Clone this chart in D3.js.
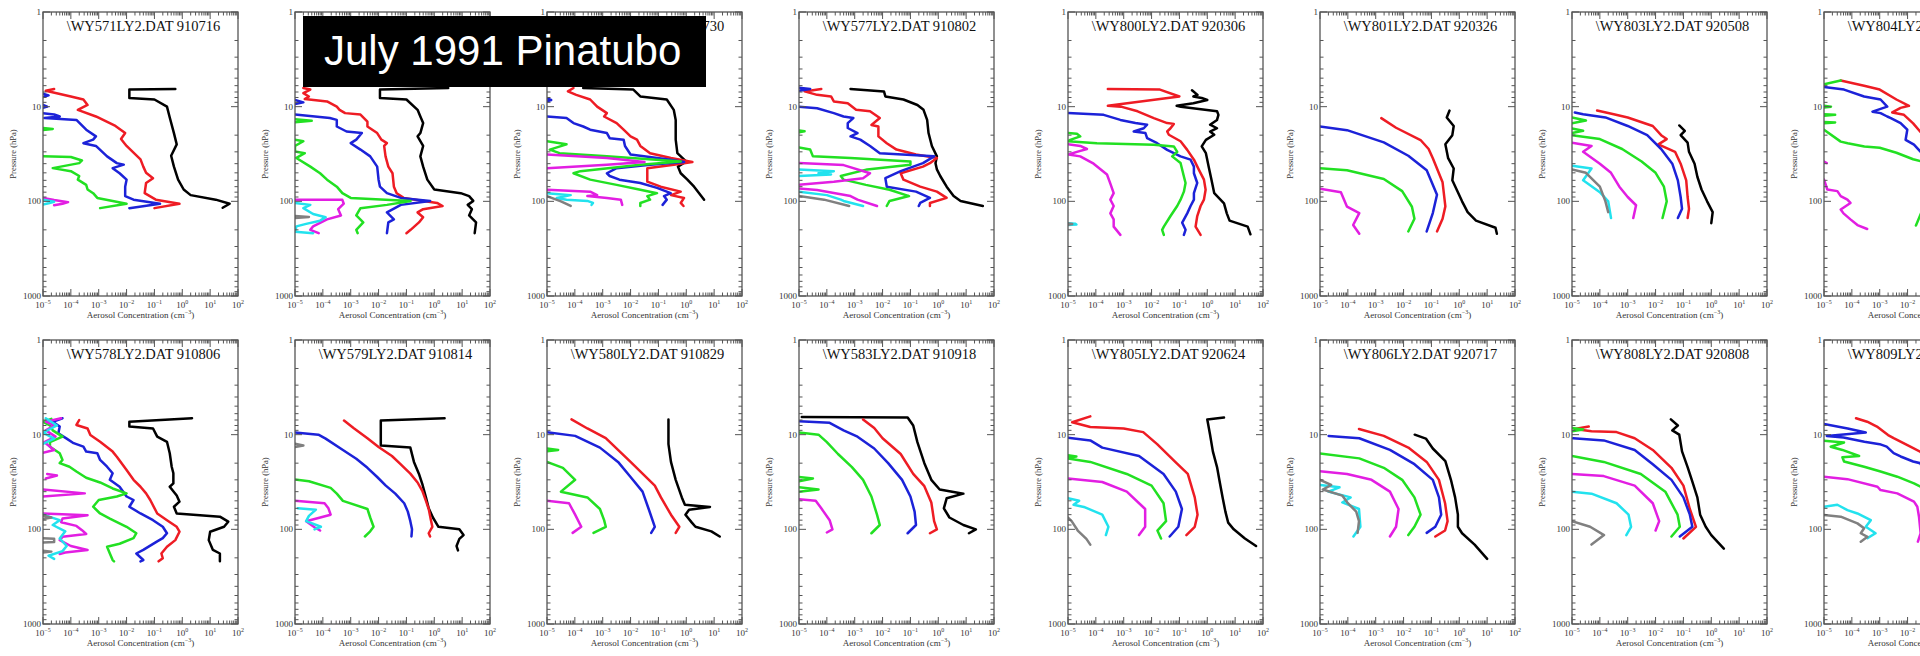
<!DOCTYPE html>
<html>
<head>
<meta charset="utf-8">
<script src="https://cdn.jsdelivr.net/npm/d3@7"></script>
<style>
  html, body { margin: 0; padding: 0; background: #fff; overflow: hidden; }
  svg { display: block; }
</style>
</head>
<body>
<svg id="chart" width="1920" height="656"></svg>
<script>
// Balloon-borne aerosol profiles, Laramie WY, before and after Pinatubo.
// Each profile point is [pressure hPa, log10 concentration]; null breaks a line.
// Series order in every sounding: CN (black), then size channels red, blue,
// green, magenta, cyan, gray.

const seriesColors = ["#000000", "#ee1c24", "#1c22d8", "#22e022", "#e21ee2", "#22e2ee", "#808080"];
const xTickExponents = [-5, -4, -3, -2, -1, 0, 1, 2];
const yTickLabels = [1, 10, 100, 1000];

const titles = [
  "\\WY571LY2.DAT 910716", "\\WY574LY2.DAT 910723", "\\WY576LY2.DAT 910730", "\\WY577LY2.DAT 910802",
  "\\WY800LY2.DAT 920306", "\\WY801LY2.DAT 920326", "\\WY803LY2.DAT 920508", "\\WY804LY2.DAT 920528",
  "\\WY578LY2.DAT 910806", "\\WY579LY2.DAT 910814", "\\WY580LY2.DAT 910829", "\\WY583LY2.DAT 910918",
  "\\WY805LY2.DAT 920624", "\\WY806LY2.DAT 920717", "\\WY808LY2.DAT 920808", "\\WY809LY2.DAT 920828"
];

const wy571 = [
  [[6.5,-0.25],[6.6,-1.9],[8.1,-1.9],[8.4,-1.0],[10,-0.55],[13,-0.45],[19,-0.3],[25,-0.2],[33,-0.4],[43,-0.3],[59,-0.15],[75,0.05],[86,0.3],[96,1.2],[106,1.7],[117,1.45]],
  [[6.5,-4.6],[6.8,-4.9],[7.8,-4.0],[8.4,-3.55],[9.6,-3.4],[10.8,-3.75],[12.7,-3.1],[16,-2.4],[19,-2.05],[22,-2.2],[26,-2.0],[36,-1.5],[43,-1.4],[50,-1.3],[57,-1.05],[64,-1.3],[82,-1.35],[96,-0.95],[106,-0.1],[118,-1.0]],
  [[7.3,-5],[7.6,-4.8],[7.9,-5],null,[9.6,-5],[10,-4.85],[10.3,-5],null,[11.7,-5],[12.1,-4.6],[12.7,-4.4],[13.2,-4.95],[13.8,-3.8],[17.5,-3.45],[20.6,-3.1],[22.3,-3.2],[24.3,-3.55],[26,-3.1],[33.5,-2.7],[39.5,-2.35],[41,-2.1],[44.6,-2.5],[50.5,-2.25],[59,-2.0],[70,-2.05],[88,-2.05],[96,-1.75],[106,-0.8],[118,-1.9]],
  [[16.8,-5],[17.2,-4.65],[17.6,-5],null,[33.5,-5],[34,-4.0],[37,-3.6],[39.5,-3.7],[44.6,-4.65],[48,-4.0],[54,-3.7],[59,-3.75],[67,-3.45],[75,-3.4],[82,-3.2],[92,-3.05],[99,-2.5],[106,-2.0],[118,-2.95]],
  [[92,-5],[97,-4.6],[102,-4.1],[106,-4.3],[110,-4.6]],
  [[96,-5],[101,-4.6],[105,-4.8],[108,-5]],
  []
];

const wy574 = [
  [[6.35,0.5],[6.6,-1.95],[8.1,-1.95],[8.4,-1.0],[10.8,-0.6],[12.7,-0.5],[14.9,-0.4],[19,-0.5],[20.6,-0.6],[26,-0.4],[33.5,-0.5],[43,-0.4],[59,-0.25],[75,0.0],[82,0.95],[88,1.25],[99,1.4],[109,1.2],[121,1.35],[141,1.25],[167,1.5],[217,1.45]],
  [[6.35,-4.7],[6.6,-4.45],[7.2,-4.7],[7.8,-4.5],[8.3,-4.65],[8.8,-3.85],[10,-3.5],[10.8,-3.4],[11.7,-3.2],[12.1,-2.65],[14.4,-2.4],[16.2,-2.4],[19,-2.05],[22.3,-1.9],[24.3,-1.7],[26,-1.8],[33.5,-1.75],[43,-1.65],[50.5,-1.5],[70,-1.45],[82,-1.35],[92,-1.1],[104,0.1],[112,0.3],[121,-0.4],[131,-0.6],[147,-0.4],[167,-0.55],[200,-0.85],[217,-1.0]],
  [[8.5,-5],[9,-4.7],[9.4,-5],null,[12.1,-5],[13.2,-3.75],[13.8,-3.5],[16.2,-3.5],[18.3,-3.15],[19,-2.6],[22.3,-2.8],[24.3,-3.0],[28.4,-2.65],[33.5,-2.3],[43,-2.05],[59,-2.0],[70,-1.95],[82,-1.7],[92,-1.2],[99,-0.15],[109,-1.2],[131,-1.7],[155,-1.45],[167,-1.65],[217,-1.7]],
  [[13.6,-5],[14.1,-4.4],[14.6,-5],null,[22.3,-5],[23.2,-4.7],[26,-5],[29.8,-5],[31,-4.65],[34.8,-4.95],[43,-4.45],[50.5,-4.1],[59,-3.85],[70,-3.5],[82,-3.3],[92,-3.0],[99,-0.85],[109,-1.7],[118,-2.65],[141,-2.8],[167,-2.55],[200,-2.8],[217,-2.75]],
  [[96,-5],[96.5,-3.3],[106,-3.25],[121,-3.45],[141,-3.35],[155,-3.85],[184,-4.35],[200,-4.45],[217,-4.15]],
  [[104,-5],[109,-4.45],[118,-4.7],[136,-4.35],[147,-3.9],[160,-4.1],[173,-4.6],[184,-4.95],[210,-5],[217,-4.35]],
  [[143,-5],[146,-4.5],[150,-5]]
];

const wy576 = [
  [[6.35,-3.7],[6.6,-1.9],[7.8,-1.65],[8.4,-0.7],[10.8,-0.45],[13.8,-0.38],[22.3,-0.38],[31,-0.32],[38,0.0],[43,-0.3],[50.5,-0.2],[59,0.04],[70,0.28],[82,0.46],[96,0.64]],
  [[6.35,-4.05],[6.9,-4.25],[7.5,-3.95],[8.4,-3.45],[10,-3.2],[11.7,-2.85],[12.7,-2.95],[14.9,-2.5],[17.5,-2.25],[20.6,-2.0],[22.3,-1.77],[26,-1.65],[31,-1.3],[34.8,-0.55],[38.5,0.22],[41,-0.45],[44.6,-1.4],[50.5,-1.4],[62,-1.4],[70,-0.92],[79,-0.2],[86,-0.55],[92,-0.08],[104,-0.2],[112,-0.1]],
  [[8.2,-5],[8.5,-4.85],[8.8,-5],null,[12.7,-5],[13.2,-4.3],[14.9,-4.05],[16.2,-3.7],[17.5,-3.45],[19,-2.85],[21.5,-2.75],[22.3,-2.25],[26,-2.2],[32,-2.0],[36,-0.7],[38.5,-0.08],[41,-1.3],[44.6,-2.5],[50.5,-2.85],[54,-2.75],[59,-2.4],[64,-1.65],[72,-1.05],[82,-0.56],[88,-0.8],[96,-0.7],[109,-0.85]],
  [[23.2,-5],[25,-4.3],[28.4,-4.9],[31,-4.55],[33.5,-2.85],[38,-0.2],[41,-1.65],[48,-3.8],[50.5,-4.05],[59,-3.45],[67,-2.5],[75.5,-1.65],[82,-1.05],[88,-1.4],[96,-1.3],[104,-1.65],[112,-1.65]],
  [[32,-5],[34.8,-2.85],[38.5,-1.5],[41,-2.85],[44.6,-5],null,[75.5,-5],[79,-3.45],[86,-3.2],[88,-3.55],[92,-2.85],[96,-2.35],[109,-2.3]],
  [[82,-5],[86,-4.15],[92,-4.65],[96,-4.3],[99,-3.55],[104,-3.35],[109,-3.4]],
  [[88,-5],[100,-4.5],[112,-4.15]]
];

const wy577 = [
  [[6.5,-3.15],[6.9,-1.95],[7.8,-1.9],[8.4,-1.25],[9.6,-0.75],[10.8,-0.53],[13.8,-0.4],[19,-0.35],[26,-0.23],[33.5,-0.05],[39.5,-0.1],[46,-0.05],[54,0.07],[70,0.3],[88,0.55],[99,0.8],[112,1.6]],
  [[6.5,-4.2],[6.9,-4.8],[7.5,-4.35],[7.8,-3.85],[8.8,-3.75],[9.2,-3.25],[10.8,-2.95],[11.2,-2.45],[13.2,-2.1],[15.6,-2.4],[16.2,-2.15],[20.6,-2.15],[24.3,-1.85],[28.4,-1.5],[32,-0.8],[34.8,-0.05],[39.5,-0.3],[43,-0.55],[50.5,-1.35],[59,-1.25],[70,-0.65],[79,-0.05],[92,0.3],[104,-0.3],[112,-0.3]],
  [[6.3,-5],[6.5,-4.6],[6.8,-5],null,[10,-5],[10.4,-4.35],[11.7,-3.75],[12.7,-3.4],[13.2,-3.05],[14.9,-3.25],[16.8,-3.25],[19,-2.9],[20.6,-3.15],[22.3,-2.8],[26,-2.45],[31,-2.1],[33.5,-0.15],[39.5,-0.55],[48,-1.35],[57,-1.9],[70,-1.85],[79,-0.8],[92,-0.3],[104,-0.65],[112,-0.7]],
  [[17.8,-5],[18.2,-4.8],[18.6,-5],null,[27,-5],[28.4,-4.6],[33.5,-4.5],[34.8,-3.15],[38,-1.0],[41,-1.0],[46,-2.55],[54,-3.5],[59,-3.4],[67,-2.6],[75.5,-1.75],[88,-1.05],[99,-1.75],[112,-1.85]],
  [[39.4,-5],[41.4,-3.4],[50.5,-2.45],[57,-2.7],[62,-3.75],[67,-5],null,[73,-5],[76,-4.35],[88,-3.15],[96,-2.9],[112,-2.2]],
  [[46,-5],[48,-3.75],[50.5,-4.3],[52,-3.85],[54,-5],null,[79,-5],[86,-4.0],[96,-3.5],[99,-3.4],[112,-2.7]],
  [[88,-5],[96,-4.1],[112,-3.2]]
];

const wy800 = [
  [[6.7,-0.55],[7.5,-0.35],[7.8,-0.5],[8.1,-0.2],[8.5,0.0],[9.2,-0.5],[9.8,-1.1],[10,-0.95],[11.2,0.35],[12.2,0.4],[13.8,0.35],[15.5,0.1],[16.9,0.35],[18.3,0.1],[19.8,0.25],[22.4,-0.05],[26.3,-0.2],[31,-0.05],[43,0.05],[59,0.15],[82,0.25],[105,0.6],[134,0.7],[160,0.8],[185,1.45],[223,1.55]],
  [[6.5,-3.57],[6.6,-1.7],[7.8,-1.0],[9.8,-3.57],[10,-3.1],[11.2,-2.5],[13.2,-1.92],[14.9,-1.44],[15.2,-1.2],[16.9,-1.32],[18.3,-1.44],[19.8,-1.38],[23.2,-0.96],[28.6,-0.72],[36.3,-0.48],[46.5,-0.3],[59,-0.12],[75.5,-0.06],[96,-0.12],[112,-0.24],[143,-0.36],[185,-0.42],[226,-0.24]],
  [[11.7,-5],[12.2,-3.72],[13.8,-3.12],[14.9,-2.58],[15.5,-2.16],[16.9,-2.28],[18.3,-2.64],[19,-2.22],[21.5,-2.16],[24.3,-1.8],[28.6,-1.44],[33.5,-0.96],[36.3,-0.6],[43,-0.48],[50.5,-0.48],[64,-0.36],[82,-0.48],[96,-0.48],[112,-0.6],[134,-0.72],[168,-0.9],[200,-0.78],[226,-0.84]],
  [[19,-5],[19.3,-4.68],[20.6,-4.56],[22.4,-4.92],[23.2,-5],[24.3,-3.96],[25.2,-1.92],[26.3,-1.2],[30,-1.08],[33.5,-1.26],[39.4,-0.96],[54.6,-0.84],[64,-0.78],[79,-0.84],[96,-0.96],[112,-1.08],[143,-1.32],[185,-1.56],[200,-1.62],[226,-1.56]],
  [[25,-5],[26,-4.56],[28,-4.32],[30,-4.68],[32,-4.98],[33.5,-4.56],[40,-4.08],[52,-3.6],[65,-3.48],[82,-3.36],[96,-3.48],[112,-3.36],[134,-3.48],[155,-3.36],[185,-3.36],[226,-3.12]],
  [[170,-5],[172,-4.75],[176,-4.7],[178,-5]],
  [[171,-5],[174,-4.85],[177,-5]]
];

const wy801 = [
  [[11,-0.35],[13,-0.45],[16,-0.2],[20,-0.25],[25,-0.5],[35,-0.4],[45,-0.2],[60,-0.25],[80,-0.05],[100,0.1],[130,0.3],[160,0.6],[190,1.3],[220,1.35]],
  [[13.2,-2.8],[16.7,-2.27],[22.5,-1.39],[28,-1.1],[35,-0.95],[63,-0.6],[113,-0.5],[153,-0.6],[208,-0.8]],
  [[16.2,-5],[17.7,-4.03],[23.8,-2.71],[33,-1.83],[47,-1.17],[85,-0.8],[133,-0.95],[208,-1.17]],
  [[44.6,-5],[47,-4.03],[58,-2.71],[78,-2.05],[114,-1.7],[153,-1.61],[208,-1.83]],
  [[73.6,-5],[80,-4.25],[114,-4.03],[133,-3.59],[178,-3.81],[220,-3.59]],
  [],
  []
];

const wy803 = [
  [[15.8,-1.15],[18,-0.95],[20,-1.1],[24,-0.85],[30,-0.8],[40,-0.6],[55,-0.5],[75,-0.35],[100,-0.15],[130,0.05],[170,0.0]],
  [[11,-4.1],[12,-3.5],[13,-3.0],[16,-2.1],[20,-1.8],[22,-1.6],[25,-1.9],[30,-1.3],[40,-1.1],[60,-0.9],[90,-0.85],[120,-0.8],[150,-0.85]],
  [[11.5,-4.9],[12,-4.6],[13,-3.8],[16,-3.0],[20,-2.3],[28,-1.8],[40,-1.4],[60,-1.2],[90,-1.1],[120,-1.05],[150,-1.2]],
  [[13,-5],[14,-4.5],[15,-5],null,[17,-5],[18,-4.6],[19,-5],null,[20,-5],[22,-4.0],[28,-3.2],[38,-2.5],[50,-2.0],[70,-1.7],[100,-1.6],[150,-1.75]],
  [[24,-5],[26,-4.3],[30,-4.6],[40,-4.0],[50,-3.6],[70,-3.3],[90,-3.0],[110,-2.7],[150,-2.8]],
  [[42,-5],[45,-4.3],[60,-4.6],[80,-4.0],[100,-3.7],[150,-3.6]],
  [[46,-5],[50,-4.5],[70,-4.0],[100,-3.8],[130,-3.7]]
];

const wy804 = [
  [[6,0.5],[50,0.5],[150,1.5]],
  [[5.3,-4.4],[6.0,-3.56],[6.6,-3.0],[8.4,-2.4],[9.8,-1.95],[10.3,-2.25],[11.5,-2.55],[12.2,-2.13],[15,-1.8],[19,-1.5],[30,-0.9],[50,-0.5],[80,-0.3],[120,-0.3],[180,-0.4]],
  [[6.2,-5],[6.6,-4.28],[7.8,-3.56],[8.4,-2.97],[10,-2.73],[11.3,-3.26],[11.7,-2.97],[12.7,-2.73],[13.2,-2.6],[14.9,-2.25],[17.5,-2.01],[22.4,-2.07],[25.2,-1.77],[30,-1.53],[40,-1.0],[70,-0.7],[120,-0.7],[180,-0.9]],
  [[5.8,-5],[5.3,-4.4],null,[9.8,-5],[10,-4.75],[10.2,-5],null,[12.0,-5],[12.2,-4.6],[12.5,-5],null,[14.5,-5],[14.7,-4.6],[15,-5],null,[17.5,-5],[23.4,-4.4],[24.3,-4.15],[26.3,-3.55],[27.2,-3.0],[30.7,-2.4],[35.9,-1.8],[37.8,-1.5],[50,-1.2],[100,-1.5],[130,-1.5],[180,-1.7]],
  [[38,-5],[39.4,-4.9],null,[59,-5],[75,-4.88],[78,-4.52],[88,-4.4],[96,-4.16],[104,-4.05],[122,-4.4],[134,-4.3],[155,-4.05],[178,-3.8],[196,-3.45]],
  [],
  []
];

const wy578 = [
  [[6.7,0.35],[7.3,-1.9],[8.2,-1.9],[8.6,-1.05],[10.5,-0.9],[11.9,-0.55],[15.7,-0.45],[21.8,-0.38],[25.6,-0.32],[32.7,-0.32],[35.5,-0.45],[44,-0.2],[51,-0.1],[57.7,-0.3],[68,-0.2],[73.5,1.35],[83,1.65],[94,1.5],[106,1.0],[130,0.95],[165,1.1],[180,1.35],[218,1.35]],
  [[7.0,-3.7],[7.9,-3.8],[8.6,-3.4],[10.1,-3.3],[11.9,-2.95],[15.1,-2.5],[17.1,-2.35],[23.6,-2.0],[30,-1.75],[35.5,-1.5],[41.7,-1.3],[49,-1.15],[68,-0.9],[80,-0.55],[94,-0.2],[106,-0.1],[130,-0.25],[153,-0.55],[180,-0.75],[202,-0.7],[218,-0.85]],
  [[6.7,-4.3],[7.3,-4.65],[8.2,-4.4],[9.7,-4.45],[11.0,-4.15],[12.3,-3.9],[13.4,-3.55],[15.1,-3.45],[15.7,-3.05],[18.5,-2.95],[21.8,-2.7],[25.6,-2.5],[30,-2.6],[35.5,-2.25],[45,-2.0],[49,-1.75],[57.7,-1.9],[68,-1.5],[80,-1.05],[94,-0.7],[110,-0.55],[124,-0.7],[134,-0.9],[165,-1.4],[180,-1.65],[211,-1.4],[218,-1.5]],
  [[6.8,-4.7],[7.3,-5],[8.0,-4.75],[9.0,-4.65],[10.5,-4.3],[12,-4.75],[13.4,-4.75],[15.7,-4.4],[18.5,-4.3],[20,-4.4],[21.8,-4.05],[24.5,-3.8],[28.5,-3.45],[32,-2.95],[37,-2.5],[41.7,-2.0],[45,-2.35],[49,-3.0],[57.7,-3.2],[68,-2.95],[77,-2.6],[94,-2.0],[110,-1.65],[124,-1.75],[142,-2.25],[153,-2.7],[180,-2.6],[211,-2.5],[218,-2.45]],
  [[6.7,-4.35],[7.3,-4.9],[8.0,-4.6],[9.0,-4.9],[10.5,-4.55],[12,-4.95],[14.5,-4.6],[15.5,-5],null,[26,-4.85],[27,-4.5],[29,-4.9],null,[38,-5],[41.7,-3.5],[45,-5],null,[68,-5],[71,-3.4],[77,-4.3],[84,-4.35],[92,-3.8],[102,-3.6],[112,-3.45],[120,-4.3],[130,-4.4],[150,-4.0],[165,-3.4],[176,-4.2],[182,-4.4]],
  [[6.7,-4.9],[8,-4.5],[9.5,-5],[11,-4.6],[12.5,-5],null,[70,-5],[80,-4.4],[90,-4.65],[105,-4.2],[125,-4.4],[150,-4.15],[170,-4.3],[190,-4.8],[205,-4.6]],
  [[72,-5],[75,-4.7],[78,-5],null,[124,-5],[126,-4.6],[136,-4.6],[138,-5],null,[168,-5],[172,-4.7],[176,-5]]
];

const wy579 = [
  [[6.7,0.37],[7.1,-1.92],[13,-1.92],[13.7,-0.86],[19.4,-0.73],[26,-0.55],[34,-0.42],[46,-0.3],[60,-0.2],[75,-0.05],[94,0.15],[100,0.9],[115,1.05],[126,0.9],[150,0.8],[167,0.85]],
  [[7.1,-3.24],[8.5,-2.9],[10.9,-2.4],[13.5,-2.0],[16.8,-1.52],[20,-1.25],[25.8,-0.86],[32,-0.6],[39.8,-0.42],[50,-0.3],[61,-0.2],[80,-0.12],[94,-0.07],[110,-0.2],[119,-0.15]],
  [[9.5,-5],[10,-4.16],[11,-3.9],[14.5,-3.28],[18,-2.8],[22.4,-2.4],[28,-2.05],[34.5,-1.74],[42,-1.4],[53,-1.08],[65,-0.95],[82,-0.86],[100,-0.8],[119,-0.82]],
  [[29.8,-5],[31,-4.5],[36.5,-3.72],[42,-3.5],[50,-3.28],[61,-2.4],[75,-2.3],[94,-2.18],[105,-2.3],[119,-2.49]],
  [[50,-5],[53,-3.94],[60,-3.8],[70,-3.72],[82,-4.6],[95,-4.3],[103,-4.1]],
  [[60,-4.9],[62,-4.25],[72,-4.5],[82,-4.6],[94,-4.07],[100,-4.3]],
  [[12.5,-5],[13,-4.7],[13.5,-5]]
];

const wy580 = [
  [[6.9,-0.64],[12.6,-0.64],[19.4,-0.55],[30,-0.38],[46,-0.16],[55,-0.05],[58,0.85],[62,0.1],[70,-0.03],[85,0.2],[94,0.33],[105,0.9],[119,1.2]],
  [[6.9,-4.12],[8.6,-3.55],[10.9,-2.89],[14.5,-2.45],[19.4,-2.0],[25.8,-1.57],[34.5,-1.13],[46,-0.91],[70,-0.55],[94,-0.25],[109,-0.38]],
  [[9.4,-5],[10.3,-3.99],[13.7,-3.1],[19.4,-2.45],[28,-2.0],[40,-1.57],[61,-1.35],[94,-1.13],[109,-1.26]],
  [[14,-5],[14.5,-4.6],[15,-5],null,[19.4,-5],[22.4,-4.43],[30,-3.99],[40,-4.5],[46,-3.55],[61,-3.1],[80,-2.95],[94,-2.89],[109,-3.33]],
  [[50,-5],[53,-4.21],[70,-3.99],[94,-3.77],[109,-4.08]],
  [],
  []
];

const wy583 = [
  [[6.5,-4.9],[6.6,-1.1],[8,-0.9],[12,-0.75],[20,-0.5],[30,-0.25],[38,0.05],[42,0.9],[47,0.3],[60,0.2],[75,0.4],[90,0.9],[100,1.35],[110,1.1]],
  [[6.9,-2.7],[8.5,-2.3],[10.9,-2.0],[16,-1.35],[26,-0.9],[35,-0.5],[52,-0.25],[82,-0.15],[100,-0.05],[110,-0.3]],
  [[7.2,-5],[7.5,-3.9],[9,-3.4],[10.5,-2.9],[14,-2.3],[20,-1.8],[30,-1.3],[45,-1.0],[65,-0.85],[90,-0.8],[110,-1.1]],
  [[9.5,-5],[10,-4.3],[12,-4.0],[16,-3.6],[22,-3.1],[30,-2.7],[45,-2.4],[70,-2.2],[90,-2.1],[110,-2.4],null,[28,-5],[29,-4.5],[31,-5],null,[36,-5],[38,-4.3],[40,-5]],
  [[48,-5],[50,-4.4],[60,-4.2],[80,-3.9],[100,-3.8],[108,-4.0]],
  [],
  []
];

const wy805 = [
  [[6.6,0.6],[6.9,0.0],[10,0.1],[15,0.2],[22,0.35],[32,0.45],[46,0.55],[65,0.65],[85,0.75],[100,0.95],[125,1.35],[150,1.75]],
  [[6.4,-4.2],[7.4,-4.85],[8.3,-4.2],[8.6,-3.0],[9.4,-2.3],[12.6,-1.8],[19.4,-1.15],[26,-0.7],[46,-0.45],[70,-0.35],[94,-0.45],[115,-0.75]],
  [[10.8,-5],[11.5,-4.2],[13.7,-3.77],[16.8,-2.45],[26,-1.57],[40,-1.13],[61,-0.91],[94,-1.04],[119,-1.35]],
  [[16.5,-5],[17,-4.7],[17.5,-5],null,[17.8,-5],[19.4,-4.2],[26,-2.89],[34.5,-2.0],[53,-1.57],[82,-1.48],[103,-1.79],[125,-1.66]],
  [[29,-5],[31.6,-3.77],[40,-2.89],[61,-2.23],[94,-2.23],[115,-2.45]],
  [[47,-5],[50,-4.6],[55,-4.8],[58,-4.43],[70,-3.77],[94,-3.55],[115,-3.64]],
  [[75,-5],[82,-4.87],[103,-4.65],[126,-4.34],[145,-4.2]]
];

const wy806 = [
  [[10,-1.6],[11,-1.2],[14,-0.95],[19,-0.5],[30,-0.3],[46,-0.15],[70,-0.05],[94,-0.05],[110,0.1],[145,0.55],[205,1.0]],
  [[8.7,-3.6],[10.3,-2.71],[13.7,-1.83],[19.4,-1.17],[30,-0.73],[53,-0.51],[82,-0.42],[103,-0.51],[119,-0.86]],
  [[10.3,-4.69],[10.9,-3.59],[14.5,-2.49],[20.5,-1.61],[30,-0.95],[46,-0.73],[70,-0.65],[94,-0.86],[109,-1.17]],
  [[15.8,-5],[17.8,-3.59],[22.4,-2.71],[30,-2.05],[46,-1.61],[70,-1.39],[94,-1.61],[115,-1.83]],
  [[24.4,-5],[26,-4.03],[30,-3.15],[40,-2.49],[61,-2.18],[94,-2.27],[119,-2.49]],
  [[34,-5],[36,-4.3],[40,-4.7],[46,-3.9],[52,-4.2],[61,-3.6],[94,-3.55],[119,-3.8]],
  [[30,-5],[34,-4.6],[38,-4.9],[44,-4.2],[53,-4.0],[65,-3.7],[82,-3.6],[109,-3.65]]
];

const wy808 = [
  [[6.9,-1.45],[8,-1.2],[9,-1.4],[10,-1.15],[15,-1.05],[22,-0.85],[30,-0.7],[46,-0.5],[70,-0.4],[94,-0.2],[115,0.0],[160,0.45]],
  [[8.2,-4.4],[8.7,-4.9],[9.2,-4.3],[9.4,-3.4],[10.9,-2.75],[14.5,-2.1],[22.4,-1.43],[34.5,-1.0],[61,-0.77],[94,-0.55],[125,-1.0]],
  [[10.9,-4.96],[11.5,-3.86],[14.5,-2.75],[20.5,-2.1],[30,-1.43],[46,-1.0],[70,-0.77],[94,-0.68],[119,-1.13]],
  [[8.5,-5],[8.8,-4.6],[9.2,-5],null,[16.8,-5],[19.4,-3.86],[26,-2.53],[40,-1.65],[70,-1.21],[94,-1.13],[119,-1.43]],
  [[26,-5],[27.4,-3.86],[34.5,-2.75],[53,-2.1],[82,-1.87],[103,-2.0]],
  [[40,-5],[42,-4.3],[53,-3.4],[70,-2.97],[94,-2.88],[115,-3.05]],
  [[82,-5],[94,-4.35],[115,-3.85],[145,-4.3]]
];

const wy809 = [
  [[6.5,0.5],[20,0.5],[100,1.2]],
  [[6.7,-3.85],[7.3,-3.45],[8.2,-3.1],[10.1,-2.7],[10.9,-2.5],[13.4,-1.9],[15.1,-1.55],[20,-1.1],[30,-0.8],[50,-0.5],[80,-0.3],[110,-0.4]],
  [[7.7,-5],[8.6,-4.15],[9.5,-3.5],[10.3,-4.9],[10.7,-4.3],[11.9,-3.55],[12.6,-3.0],[13.4,-2.75],[15.7,-2.5],[17,-2.25],[19.2,-1.8],[20,-1.55],[30,-1.2],[50,-0.9],[80,-0.7],[110,-0.8]],
  [[11.6,-5],[12.1,-4.28],[13.4,-4.76],[14.5,-4.34],[16.8,-3.74],[17.3,-4.34],[19.2,-4.28],[21.8,-3.56],[24.5,-2.97],[27.8,-2.37],[32.7,-1.77],[35.5,-1.53],[50,-1.3],[80,-1.2],[110,-1.4]],
  [[27.8,-5],[29.5,-4.16],[35.5,-3.08],[38.5,-2.97],[41.7,-2.37],[51,-1.77],[57.7,-1.65],[73.5,-1.59],[110,-1.53],[135,-1.63]],
  [[57.7,-5],[55,-4.52],[62.6,-4.16],[68,-3.8],[80,-3.32],[94,-3.5],[110,-3.15],[124,-3.44]],
  [[70.6,-5],[73.5,-4.4],[86.5,-3.8],[97.5,-3.56],[110,-3.68],[120,-3.44],[135,-3.68]]
];

const panels = [wy571, wy574, wy576, wy577, wy800, wy801, wy803, wy804,
                wy578, wy579, wy580, wy583, wy805, wy806, wy808, wy809];

// ---- layout ----
const PW = 195, PH = 284;
const colLefts = [43, 295, 547, 799, 1068, 1320, 1572, 1824];
const rowTops = [12, 340];

const svg = d3.select("#chart");
svg.append("rect").attr("width", 1920).attr("height", 656).attr("fill", "#fff");

const x = d3.scaleLog().domain([1e-5, 1e2]).range([0, PW]);
const y = d3.scaleLog().domain([1, 1000]).range([0, PH]);

const isMajor = v => Math.abs(Math.log10(v) - Math.round(Math.log10(v))) < 1e-6;
const serif = "'Liberation Serif', 'DejaVu Serif', serif";

const line = d3.line()
  .defined(d => d !== null)
  .x(d => x(Math.pow(10, d[1])))
  .y(d => y(d[0]))
  .curve(d3.curveLinear);

const defs = svg.append("defs");
defs.append("clipPath").attr("id", "plotArea")
  .append("rect").attr("x", 0).attr("y", 0).attr("width", PW).attr("height", PH);

panels.forEach((series, i) => {
  const row = Math.floor(i / 8), col = i % 8;
  const g = svg.append("g")
    .attr("transform", `translate(${colLefts[col]},${rowTops[row]})`);

  // profiles
  const plot = g.append("g").attr("clip-path", "url(#plotArea)");
  series.forEach((pts, k) => {
    if (!pts.length) return;
    plot.append("path")
      .attr("d", line(pts))
      .attr("fill", "none")
      .attr("stroke", seriesColors[k])
      .attr("stroke-width", 2.5)
      .attr("stroke-linejoin", "round")
      .attr("stroke-linecap", "round");
  });

  // frame
  g.append("rect").attr("width", PW).attr("height", PH)
    .attr("fill", "none").attr("stroke", "#555").attr("stroke-width", 1.3);

  // inward ticks on all four sides
  const tk = g.append("g").attr("stroke", "#555").attr("stroke-width", 1);
  x.ticks().forEach(t => {
    const len = isMajor(t) ? 7 : 3.5;
    const xx = x(t);
    tk.append("line").attr("x1", xx).attr("x2", xx).attr("y1", PH).attr("y2", PH - len);
    tk.append("line").attr("x1", xx).attr("x2", xx).attr("y1", 0).attr("y2", len);
  });
  y.ticks().forEach(t => {
    const len = isMajor(t) ? 7 : 3.5;
    const yy = y(t);
    tk.append("line").attr("x1", 0).attr("x2", len).attr("y1", yy).attr("y2", yy);
    tk.append("line").attr("x1", PW).attr("x2", PW - len).attr("y1", yy).attr("y2", yy);
  });

  // y labels
  yTickLabels.forEach(v => {
    g.append("text").attr("x", -2).attr("y", y(v)).attr("dy", "0.35em")
      .attr("text-anchor", "end").attr("font-family", serif)
      .attr("font-size", 9).attr("fill", "#333").text(v);
  });
  g.append("text")
    .attr("transform", `translate(-27,${PH / 2}) rotate(-90)`)
    .attr("text-anchor", "middle").attr("font-family", serif)
    .attr("font-size", 8.5).attr("fill", "#333").text("Pressure (hPa)");

  // x labels 10^n
  xTickExponents.forEach(n => {
    const t = g.append("text").attr("x", x(Math.pow(10, n))).attr("y", PH + 12)
      .attr("text-anchor", "middle").attr("font-family", serif)
      .attr("font-size", 9).attr("fill", "#333");
    t.append("tspan").text("10");
    t.append("tspan").attr("font-size", 6).attr("dy", -4)
      .text(n < 0 ? "\u2212" + Math.abs(n) : String(n));
  });
  const xt = g.append("text").attr("x", PW / 2).attr("y", PH + 22)
    .attr("text-anchor", "middle").attr("font-family", serif)
    .attr("font-size", 9).attr("fill", "#333");
  xt.append("tspan").text("Aerosol Concentration (cm");
  xt.append("tspan").attr("font-size", 6).attr("dy", -4).text("\u22123");
  xt.append("tspan").attr("dy", 4).text(")");

  // sounding title
  g.append("text").attr("x", PW / 2 + 3).attr("y", 19)
    .attr("text-anchor", "middle").attr("font-family", serif)
    .attr("font-size", 14.5).attr("fill", "#111").text(titles[i]);
});

// event banner
svg.append("rect").attr("x", 303).attr("y", 16).attr("width", 403).attr("height", 71).attr("fill", "#000");
svg.append("text").attr("x", 324).attr("y", 65)
  .attr("font-family", "'Liberation Sans', Arial, sans-serif")
  .attr("font-size", 42).attr("fill", "#fff").text("July 1991 Pinatubo");
</script>
</body>
</html>
